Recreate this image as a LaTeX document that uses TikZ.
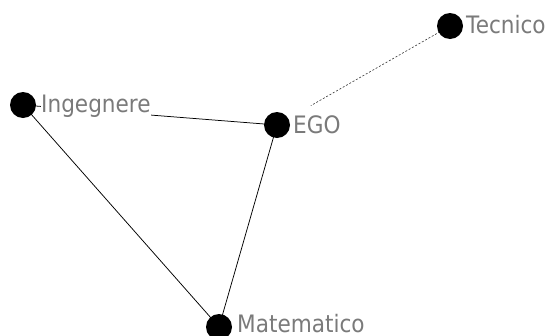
\documentclass[tikz,border=0pt]{standalone}
\usepackage{fontspec}
\setmainfont{DejaVu Sans}[FakeStretch=0.9]
\definecolor{labelgray}{HTML}{7A7A7A}
\begin{document}
\begin{tikzpicture}[x=1pt,y=-1pt,
  dot/.style={circle,fill=black,minimum size=26pt,inner sep=0pt},
  lbl/.style={anchor=base west,inner sep=0pt,fill=white,text=labelgray,font=\fontsize{24}{24}\selectfont},
  edge/.style={draw=black,line width=0.75pt},
  dashedge/.style={draw=black!80,line width=0.6pt,dash pattern=on 2pt off 1.8pt}]
\useasboundingbox (0,0) rectangle (552,335);
\coordinate (ci) at (23,105);
\coordinate (ce) at (277,125);
\coordinate (cm) at (219,327);
\coordinate (ct) at (450,26);
\draw[edge] (ci) -- (ce);
\draw[edge] (ci) -- (cm);
\draw[edge] (cm) -- (ce);
\draw[dashedge,shorten >=39pt] (ct) -- (ce);
\node[dot] (ing) at (ci) {};
\node[dot] (ego) at (ce) {};
\node[dot] (mat) at (cm) {};
\node[dot] (tec) at (ct) {};
\node[lbl] (ingl) at (41,112) {Ingegnere};
\node[lbl] (egol) at (293,133) {EGO};
\node[lbl,text depth=0pt] (matl) at (237,332) {Matematico};
\node[lbl] (tecl) at (466,33) {Tecnico};
\end{tikzpicture}
\end{document}
